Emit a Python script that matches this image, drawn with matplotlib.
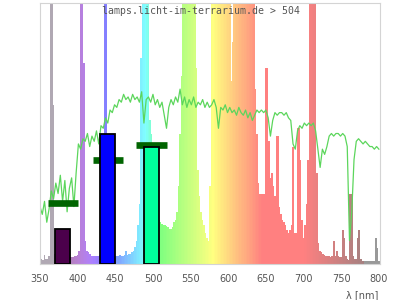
import numpy as np
import matplotlib
matplotlib.use("Agg")
import matplotlib.pyplot as plt

# ---- data ----
title_text = "lamps.licht-im-terrarium.de > 504"
x_label = "λ [nm]"
tick_values = [350, 400, 450, 500, 550, 600, 650, 700, 750, 800]

# lamp spectrum, 2 nm steps from 350 to 800 nm (relative, % of plot height)
spec_wl = np.arange(350, 801, 2)
spec_val = [
    1, 2, 1.5, 3.5, 2, 2, 3, 150, 150, 61,            # 350-368
    4, 3, 3, 3, 3, 3, 3, 3, 3, 3,                     # 370-388
    2.5, 2.5, 2.5, 3, 3, 3.5, 5, 150, 150, 77,        # 390-408
    9, 5, 4.5, 4, 3, 3, 3, 3, 3, 3,                   # 410-428
    3.5, 4, 10, 150, 150, 10, 5, 4, 4, 3.5,           # 430-448
    3, 3, 3, 3.5, 3, 3, 3.5, 5, 3.5, 4,               # 450-468
    4, 4.5, 5, 6.5, 9, 15, 23, 79, 150, 150,          # 470-488
    150, 150, 150, 55, 50, 40, 30, 22, 18, 17,        # 490-508
    16, 15.5, 15, 15, 14.5, 14, 13.5, 13.5, 14, 16,   # 510-528
    17, 20, 30, 50, 72, 150, 150, 150, 150, 150,      # 530-548
    150, 150, 150, 150, 75, 36, 26, 20, 17, 15,       # 550-568
    12, 10, 9, 30, 150, 150, 150, 150, 150, 150,      # 570-588
    150, 150, 150, 150, 150, 150, 150, 70, 85, 150,   # 590-608
    150, 150, 150, 150, 150, 150, 150, 150, 150, 150, # 610-628
    150, 150, 150, 67, 50, 31, 27, 27, 27, 27,        # 630-648
    75, 75, 47, 33, 35, 30, 26, 49, 49, 22,           # 650-668
    19, 17, 16, 15, 13, 12, 13, 15, 45, 12,           # 670-688
    12, 52, 52, 40, 17, 10, 15, 23, 40, 150,          # 690-708
    150, 150, 150, 150, 35, 8, 5, 4.5, 4, 3.5,        # 710-728
    3, 3, 3, 2.5, 3, 9, 3, 5, 3, 2.5,                 # 730-748
    2.5, 13, 10, 3, 2, 1.5, 27, 27, 3, 2,             # 750-768
    2, 10, 13, 2, 1, 1, 1, 1, 1, 1,                   # 770-788
    1, 1, 1, 10, 6, 1,                                # 790-800
]

# sunlight reference curve, 3 nm steps from 350 to 800 nm
sun_wl = np.arange(350, 801, 3)
sun_val = [
    22, 19, 24, 16, 21, 28, 25, 31, 27, 34,
    24, 32, 20, 29, 33, 22, 35, 46, 44, 48,
    47, 50, 45, 49, 47, 51, 46, 53, 52, 56,
    54, 59, 58, 61, 60, 63, 62, 65, 63, 64,
    62, 65, 63, 64, 62, 66, 54, 63, 64, 62,
    65, 61, 63, 60, 62, 57, 52, 60, 63, 61,
    64, 62, 67, 61, 64, 60, 63, 61, 64, 60,
    62, 61, 63, 60, 62, 60, 61, 63, 60, 52,
    60, 59, 61, 58, 60, 58, 59, 57, 60, 58,
    57, 59, 56, 58, 55, 57, 59, 58, 59, 58,
    59, 56, 49, 55, 58, 57, 58, 58, 57, 58,
    56, 55, 46, 44, 51, 53, 52, 54, 53, 54,
    53, 54, 51, 44, 37, 44, 42, 45, 49, 50,
    49, 50, 50, 49, 50, 49, 45, 9, 20, 40,
    47, 48, 47, 46, 47, 46, 45, 45, 44, 45,
    44,
]

# measured bands (bars) and target markers
band_centers = [380, 440, 498]
band_values = [13.5, 50, 45]
band_colors = ["#4b004b", "#0000ff", "#00ff9c"]
target_values = [23.2, 39.8, 45.6]


def wl_color(w):
    if w < 380:
        return (0.69, 0.66, 0.70)
    if w > 781:
        return (0.6, 0.6, 0.6)
    if w < 440:
        r, g, b = -(w - 440) / 60.0, 0.0, 1.0
    elif w < 490:
        r, g, b = 0.0, (w - 440) / 50.0, 1.0
    elif w < 510:
        r, g, b = 0.0, 1.0, -(w - 510) / 20.0
    elif w < 580:
        r, g, b = (w - 510) / 70.0, 1.0, 0.0
    elif w < 645:
        r, g, b = 1.0, -(w - 645) / 65.0, 0.0
    else:
        r, g, b = 1.0, 0.0, 0.0
    if w < 420:
        f = 0.3 + 0.7 * (w - 380) / 40.0
    elif w > 700:
        f = 0.3 + 0.7 * (780 - w) / 80.0
    else:
        f = 1.0
    f = max(f, 0.3)
    r, g, b = r * f, g * f, b * f
    return (0.5 + 0.5 * r, 0.5 + 0.5 * g, 0.5 + 0.5 * b)


fig = plt.figure(figsize=(4, 3), dpi=100)
ax = fig.add_axes([40 / 400, 1 - 264 / 300, 340 / 400, 261 / 300])

colors = [wl_color(w) for w in spec_wl]
ax.bar(spec_wl, spec_val, width=2.2, color=colors, linewidth=0, zorder=1)

ax.plot(sun_wl, sun_val, color="#5cd65c", linewidth=0.9, zorder=2)

tl = ax.hlines(target_values, [c - 20 for c in band_centers], [c + 20 for c in band_centers],
               colors="#006400", linewidth=4.8, zorder=3)
tl.set_capstyle("butt")

ax.bar(band_centers, band_values, width=20, color=band_colors,
       edgecolor="black", linewidth=1.3, zorder=4)

ax.set_xlim(350, 801.5)
ax.set_ylim(0, 100)
ax.set_yticks([])
ax.set_xticks(tick_values)
ax.tick_params(axis="x", length=0, pad=7, labelsize=7, labelcolor="#555555")
for s in ax.spines.values():
    s.set_color("#d4d4d4")
    s.set_linewidth(0.8)

fig.text(200.5 / 400, 1 - 11 / 300, title_text, family="DejaVu Sans Mono",
         fontsize=7.1, color="#555555", ha="center", va="center")
fig.text(378 / 400, 1 - 295.5 / 300, x_label, fontsize=7, color="#555555",
         ha="right", va="center")

fig.savefig("out.png", dpi=100)
